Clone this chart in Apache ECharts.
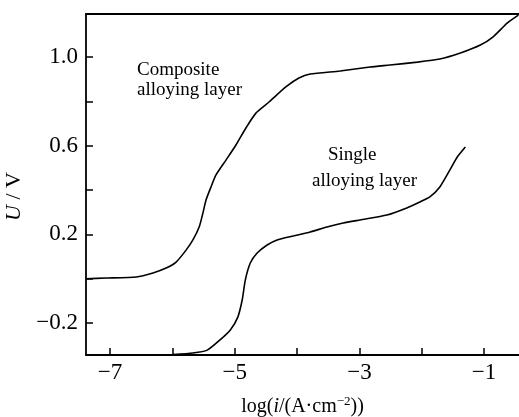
<!DOCTYPE html>
<html>
<head>
<meta charset="utf-8">
<script src="https://cdn.jsdelivr.net/npm/echarts@6/dist/echarts.min.js"></script>
<style>
html,body{margin:0;padding:0;background:#fff;}
#c{width:519px;height:417px;}
</style>
</head>
<body>
<div id="c"></div>
<script>
// Composite alloying layer: [log(i), U]
const compositeX = [-7.385,-7.06,-6.58,-6.31,-6.10,-5.94,-5.78,-5.67,-5.57,-5.51,-5.46,-5.38,-5.30,-5.14,-4.98,-4.82,-4.66,-4.45,-4.18,-3.97,-3.79,-3.31,-2.83,-2.51,-2.07,-1.71,-1.38,-1.06,-0.86,-0.63,-0.45];
const compositeU = [0.0,0.003,0.008,0.026,0.048,0.075,0.129,0.175,0.233,0.296,0.355,0.414,0.468,0.535,0.603,0.680,0.747,0.797,0.865,0.905,0.923,0.937,0.955,0.964,0.977,0.991,1.018,1.054,1.090,1.153,1.189];
// Single alloying layer
const singleX = [-5.99,-5.67,-5.44,-5.24,-5.07,-4.95,-4.88,-4.83,-4.75,-4.64,-4.48,-4.32,-4.06,-3.79,-3.52,-3.26,-2.99,-2.56,-2.24,-2.03,-1.87,-1.71,-1.55,-1.43,-1.30];
const singleU = [-0.342,-0.335,-0.322,-0.277,-0.231,-0.173,-0.096,-0.006,0.071,0.116,0.152,0.175,0.193,0.211,0.233,0.251,0.265,0.287,0.319,0.346,0.369,0.414,0.490,0.549,0.594];
const xTicks = [-7,-6,-5,-4,-3,-2,-1];
const xLabels = [-7,-5,-3,-1];
const yTicks = [-0.2,0.0,0.2,0.4,0.6,0.8,1.0];
const yLabels = [-0.2,0.2,0.6,1.0];
const labelComposite = ['Composite','alloying layer'];
const labelSingle = ['Single','alloying layer'];

const FONT = "'Liberation Serif','Times New Roman',serif";
const zip = (a,b)=>a.map((v,i)=>[v,b[i]]);
const minus = s => String(s).replace('-', '\u2212');

const chart = echarts.init(document.getElementById('c'), null, {renderer:'canvas'});
chart.setOption({
  backgroundColor:'#fff',
  animation:false,
  grid:{left:86, top:14, right:0, bottom:62, containLabel:false, outerBoundsMode:'none'},
  xAxis:[{
    type:'value', min:-7.385, max:-0.44,
    axisLine:{show:true, onZero:false, lineStyle:{color:'#000', width:1.8}},
    axisTick:{show:true, inside:true, length:7, customValues:xTicks, lineStyle:{color:'#000', width:1.5}},
    axisLabel:{customValues:xLabels, color:'#000', fontFamily:FONT, fontSize:23, margin:6,
      formatter:v=>minus(v)},
    splitLine:{show:false},
    name:'{a|log(}{i|i}{a|/(A\u00b7cm}{s|\u22122}{a|))}',
    nameLocation:'middle', nameGap:40,
    nameTextStyle:{rich:{
      a:{fontFamily:FONT, fontSize:20, color:'#000'},
      i:{fontFamily:FONT, fontSize:20, fontStyle:'italic', color:'#000'},
      s:{fontFamily:FONT, fontSize:13, color:'#000', verticalAlign:'top', padding:[0,0,10,0]}
    }}
  },{
    type:'value', position:'top', min:-7.385, max:-0.44,
    axisLine:{show:true, onZero:false, lineStyle:{color:'#000', width:1.8}},
    axisTick:{show:false}, axisLabel:{show:false}, splitLine:{show:false}
  }],
  yAxis:{
    type:'value', min:-0.344, max:1.194,
    axisLine:{show:true, onZero:false, lineStyle:{color:'#000', width:1.8}},
    axisTick:{show:true, inside:true, length:7, customValues:yTicks, lineStyle:{color:'#000', width:1.5}},
    axisLabel:{customValues:yLabels, color:'#000', fontFamily:FONT, fontSize:23, margin:8,
      formatter:v=>minus(v.toFixed(1))},
    splitLine:{show:false},
    name:'{i|U}{a| / V}', nameLocation:'middle', nameGap:56, nameRotate:90,
    nameTextStyle:{padding:[0,24,0,0], rich:{
      a:{fontFamily:FONT, fontSize:22, color:'#000'},
      i:{fontFamily:FONT, fontSize:22, fontStyle:'italic', color:'#000'}
    }}
  },
  series:[{
    type:'line', data:zip(compositeX, compositeU), smooth:0.2, showSymbol:false,
    lineStyle:{color:'#000', width:1.6}
  },{
    type:'line', data:zip(singleX, singleU), smooth:0.2, showSymbol:false,
    lineStyle:{color:'#000', width:1.6}
  }],
  graphic:[
    {type:'text', left:137, top:61, style:{text:labelComposite[0], font:'19px '+FONT, fill:'#000'}},
    {type:'text', left:137, top:81, style:{text:labelComposite[1], font:'19px '+FONT, fill:'#000'}},
    {type:'text', left:328, top:146, style:{text:labelSingle[0], font:'19px '+FONT, fill:'#000'}},
    {type:'text', left:312, top:172, style:{text:labelSingle[1], font:'19px '+FONT, fill:'#000'}}
  ]
});
</script>
</body>
</html>
